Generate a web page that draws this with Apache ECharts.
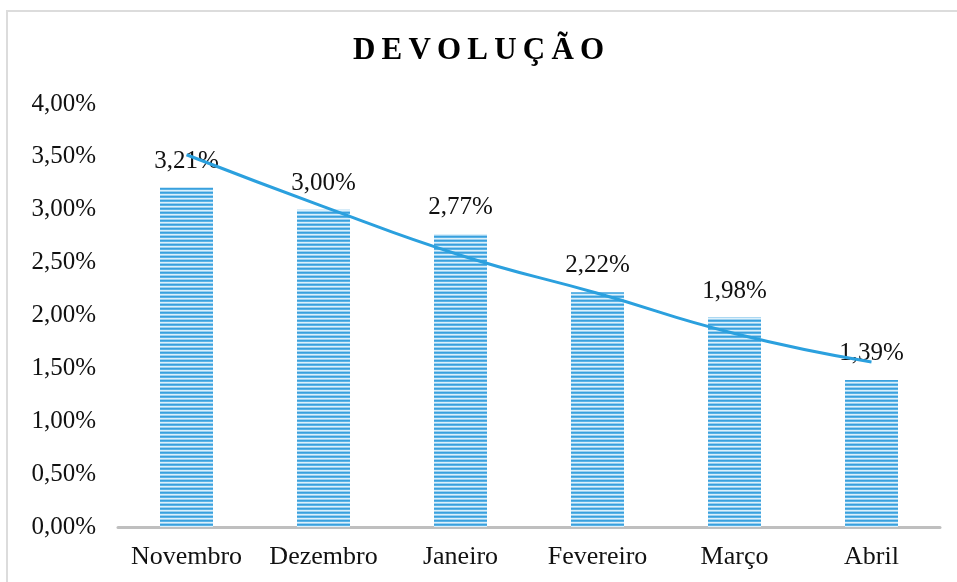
<!DOCTYPE html>
<html>
<head>
<meta charset="utf-8">
<script src="https://cdn.jsdelivr.net/npm/echarts@6/dist/echarts.min.js"></script>
<style>
  html, body { margin: 0; padding: 0; background: #fff; }
  #chart { width: 957px; height: 582px; }
</style>
</head>
<body>
<div id="chart"></div>
<script>
const months = ['Novembro', 'Dezembro', 'Janeiro', 'Fevereiro', 'Março', 'Abril']
const devolucao = [3.21, 3.00, 2.77, 2.22, 1.98, 1.39]
// trend line
const tendencia = [3.52, 3.03, 2.57, 2.21, 1.83, 1.56]
const yTicks = [0, 0.5, 1, 1.5, 2, 2.5, 3, 3.5, 4]

const serif = '"Liberation Serif", "Times New Roman", serif'

function pct(v) {
  return v.toFixed(2).replace('.', ',') + '%'
}

// horizontal stripes for the bars
function stripePattern() {
  const c = document.createElement('canvas')
  c.width = 4
  c.height = 4
  const ctx = c.getContext('2d')
  const rows = ['#3aa0dd', '#5ab3e6', '#dcf0fb', '#9ad0f0']
  rows.forEach((col, i) => {
    ctx.fillStyle = col
    ctx.fillRect(0, i, 4, 1)
  })
  return c
}

const chart = echarts.init(document.getElementById('chart'), null, { renderer: 'canvas' })

chart.setOption({
  animation: false,
  backgroundColor: '#fff',
  title: {
    text: 'D\u2009E\u2009V\u2009O\u2009L\u2009U\u2009Ç\u2009Ã\u2009O',
    left: 'center',
    top: 30,
    textStyle: {
      fontFamily: serif,
      fontWeight: 'bold',
      fontSize: 31,
      color: '#000'
    }
  },
  graphic: [{
    type: 'rect',
    shape: { x: 7, y: 11, width: 970, height: 600 },
    style: { fill: 'none', stroke: '#dcdcdc', lineWidth: 2 },
    silent: true
  }],
  grid: { left: 118, right: 17, top: 104, bottom: 55 },
  xAxis: {
    type: 'category',
    data: months,
    axisLine: { lineStyle: { color: '#bfbfbf', width: 3 } },
    axisTick: { show: false },
    axisLabel: {
      interval: 0,
      hideOverlap: false,
      fontFamily: serif,
      fontSize: 26,
      color: '#111',
      margin: 17
    }
  },
  yAxis: {
    type: 'value',
    min: yTicks[0],
    max: yTicks[yTicks.length - 1],
    interval: 0.5,
    axisLine: { show: false },
    axisTick: { show: false },
    splitLine: { show: false },
    axisLabel: {
      fontFamily: serif,
      fontSize: 25,
      color: '#111',
      margin: 22,
      formatter: pct
    }
  },
  series: [
    {
      name: 'Devolução',
      type: 'bar',
      data: devolucao,
      barWidth: 53,
      itemStyle: {
        color: { image: stripePattern(), repeat: 'repeat' }
      },
      label: {
        show: true,
        position: 'top',
        distance: 14,
        fontFamily: serif,
        fontSize: 25,
        color: '#111',
        formatter: p => pct(p.value)
      }
    },
    {
      name: 'Tendência',
      type: 'line',
      data: tendencia,
      smooth: true,
      showSymbol: false,
      lineStyle: { color: '#2ba0de', width: 3 },
      z: 5
    }
  ]
})

window.addEventListener('resize', () => chart.resize())
</script>
</body>
</html>
